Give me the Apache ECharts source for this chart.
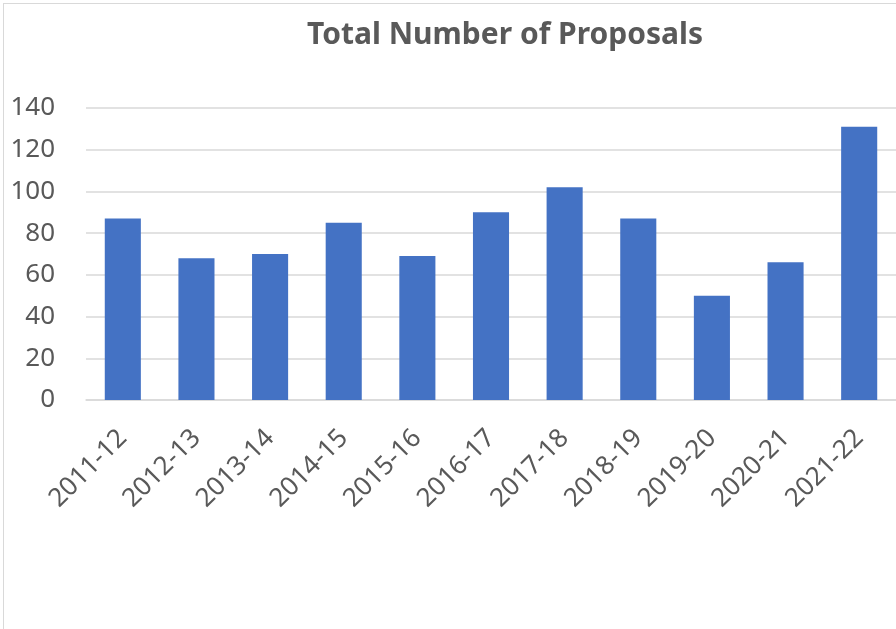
<!DOCTYPE html>
<html>
<head>
<meta charset="utf-8">
<script src="https://cdn.jsdelivr.net/npm/echarts@6/dist/echarts.min.js"></script>
<style>
    html, body { margin: 0; padding: 0; background: #fff; }
    .frame {
        position: absolute; left: 3px; top: 3px; width: 893px; height: 626px;
        border-left: 1px solid #d9d9d9; border-top: 1px solid #d9d9d9;
    }
    #chart { position: absolute; left: 0; top: 0; width: 896px; height: 629px; }
</style>
</head>
<body>
<div class="frame"></div>
<div id="chart"></div>
<script>
    // 年度
    var categories = ['2011-12', '2012-13', '2013-14', '2014-15', '2015-16', '2016-17',
        '2017-18', '2018-19', '2019-20', '2020-21', '2021-22'];
    // 提案数
    var proposals = [87, 68, 70, 85, 69, 90, 102, 87, 50, 66, 131];
    var yTicks = [0, 20, 40, 60, 80, 100, 120, 140];

    var textColor = '#595959';
    var font = 'Noto Sans';

    var myChart = echarts.init(document.getElementById('chart'));
    myChart.setOption({
        backgroundColor: 'transparent',
        animation: false,
        title: {
            text: 'Total Number of Proposals',
            left: 500,
            top: 15,
            textAlign: 'center',
            textStyle: { color: textColor, fontSize: 30, fontWeight: 'bold', fontFamily: font }
        },
        grid: { left: 86, right: 0, top: 108, bottom: 229, containLabel: false },
        xAxis: {
            type: 'category',
            data: categories,
            axisLine: { lineStyle: { color: '#d9d9d9', width: 1.5 } },
            axisTick: { show: false },
            axisLabel: {
                rotate: 45, margin: 34, interval: 0,
                color: textColor, fontSize: 26, fontFamily: font
            }
        },
        yAxis: {
            type: 'value',
            min: yTicks[0],
            max: yTicks[yTicks.length - 1],
            interval: 20,
            axisLine: { show: false },
            axisTick: { show: false },
            splitLine: { lineStyle: { color: '#d9d9d9', width: 1.5 } },
            axisLabel: { margin: 31, color: textColor, fontSize: 26, fontFamily: font }
        },
        series: [{
            name: 'Total Number of Proposals',
            type: 'bar',
            data: proposals,
            barWidth: '49%',
            itemStyle: { color: '#4472C4' }
        }]
    });
</script>
</body>
</html>
